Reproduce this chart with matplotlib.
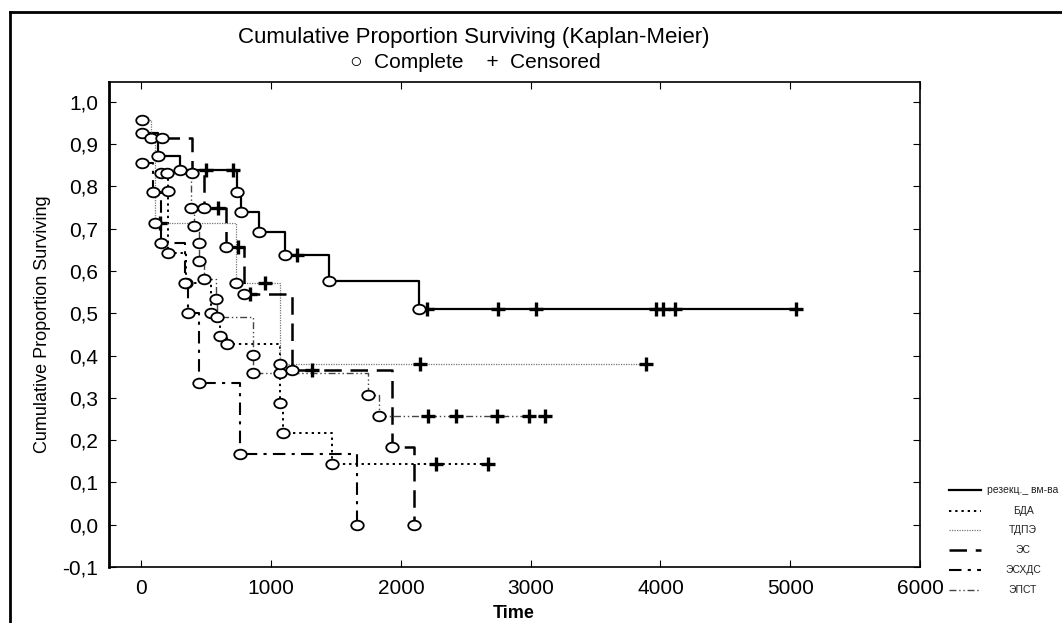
import numpy as np
import matplotlib; matplotlib.use("Agg")
import matplotlib.pyplot as plt
from matplotlib.path import Path
from matplotlib.transforms import Affine2D
from matplotlib.lines import Line2D
from matplotlib.ticker import FuncFormatter, MultipleLocator

# groups: event times, survival after each time, censored flag (1 = censored)
rez_t = [8, 131, 300, 500, 708, 738, 769, 908, 1108, 1200, 1446, 2138, 2200, 2746, 3038, 3969, 4023, 4115, 5046]
rez_s = [0.927, 0.873, 0.838, 0.838, 0.838, 0.788, 0.739, 0.692, 0.638, 0.638, 0.576, 0.511, 0.511, 0.511, 0.511, 0.511, 0.511, 0.511, 0.511]
rez_c = [0, 0, 0, 1, 1, 0, 0, 0, 0, 1, 0, 0, 1, 1, 1, 1, 1, 1, 1]

bda_t = [154, 208, 208, 346, 538, 608, 662, 1069, 1069, 1092, 1469, 2269, 2669]
bda_s = [0.831, 0.790, 0.642, 0.572, 0.501, 0.447, 0.428, 0.358, 0.287, 0.216, 0.143, 0.143, 0.143]
bda_c = [0, 0, 0, 0, 0, 0, 0, 0, 0, 0, 0, 1, 1]

tdpe_t = [8, 77, 108, 146, 731, 954, 1069, 2146, 3885]
tdpe_s = [0.958, 0.915, 0.713, 0.713, 0.572, 0.572, 0.381, 0.381, 0.381]
tdpe_c = [0, 0, 0, 1, 0, 1, 0, 1, 1]

es_t = [161, 392, 485, 592, 654, 746, 792, 838, 1162, 1315, 1931, 2100]
es_s = [0.915, 0.831, 0.750, 0.750, 0.656, 0.656, 0.546, 0.546, 0.365, 0.365, 0.184, 0.0]
es_c = [0, 0, 0, 1, 0, 1, 0, 1, 0, 1, 0, 0]

eshds_t = [8, 92, 154, 338, 362, 446, 762, 1662]
eshds_s = [0.856, 0.786, 0.666, 0.572, 0.501, 0.334, 0.167, 0.0]
eshds_c = [0, 0, 0, 0, 0, 0, 0, 0]

epst_t = [200, 385, 408, 446, 446, 485, 577, 585, 862, 862, 1746, 1831, 2208, 2423, 2738, 2985, 3108]
epst_s = [0.831, 0.750, 0.706, 0.666, 0.624, 0.581, 0.534, 0.492, 0.402, 0.358, 0.306, 0.256, 0.256, 0.256, 0.256, 0.256, 0.256]
epst_c = [0, 0, 0, 0, 0, 0, 0, 0, 0, 0, 0, 0, 1, 1, 1, 1, 1]

groups = ["резекц._ вм-ва", "БДА", "ТДПЭ", "ЭС", "ЭСХДС", "ЭПСТ"]
series = [(rez_t, rez_s, rez_c), (bda_t, bda_s, bda_c), (tdpe_t, tdpe_s, tdpe_c),
          (es_t, es_s, es_c), (eshds_t, eshds_s, eshds_c), (epst_t, epst_s, epst_c)]

styles = [
    dict(color="black", lw=1.6, ls="-"),
    dict(color="black", lw=1.4, ls=(0, (1.2, 2.0))),
    dict(color="#777777", lw=0.9, ls=(0, (1, 1))),
    dict(color="black", lw=1.8, ls=(0, (7, 3.5))),
    dict(color="black", lw=1.5, ls=(0, (6, 3, 1.5, 3))),
    dict(color="#444444", lw=1.0, ls=(0, (5, 2, 1, 2, 1, 2))),
]

plt.rcParams["font.family"] = ["Liberation Sans", "DejaVu Sans"]

ellipse = Path.unit_circle().transformed(Affine2D().scale(1.3, 1.0))

fig = plt.figure(figsize=(10.62, 6.23), dpi=100)
ax = fig.add_axes([109 / 1062, 1 - 567 / 623, 811 / 1062, 485 / 623])

for (t, s, c), st in zip(series, styles):
    t = np.array(t); s = np.array(s); c = np.array(c)
    ax.step(t, s, where="post", color=st["color"], lw=st["lw"], ls=st["ls"], zorder=2)
    ax.plot(t[c == 1], s[c == 1], ls="none", marker="+", ms=10, mew=2.4,
            color="black", zorder=4)
    ax.plot(t[c == 0], s[c == 0], ls="none", marker=ellipse, ms=9, mew=1.3,
            mfc="white", mec="black", zorder=5)

ax.set_xlim(-250, 6000)
ax.set_ylim(-0.1, 1.047)
ax.xaxis.set_major_locator(MultipleLocator(1000))
ax.yaxis.set_major_locator(MultipleLocator(0.1))
ax.yaxis.set_major_formatter(FuncFormatter(lambda v, p: f"{v:.1f}".replace(".", ",").replace("-0,0", "0,0")))
ax.tick_params(direction="in", length=5, width=0.8, top=True, right=True, labelsize=15)
ax.tick_params(axis="x", pad=9)
ax.tick_params(axis="y", pad=8)
for sp in ax.spines.values():
    sp.set_linewidth(1.2)
ax.spines["left"].set_linewidth(2)

ax.set_ylabel("Cumulative Proportion Surviving", fontsize=13, labelpad=8)
fig.text(514 / 1062, 1 - 613 / 623, "Time", ha="center", va="center",
         fontsize=13, fontweight="bold")

fig.text(474 / 1062, 1 - 37 / 623, "Cumulative Proportion Surviving (Kaplan-Meier)",
         ha="center", va="center", fontsize=16)
fig.text(475 / 1062, 1 - 62 / 623, "\u25cb  Complete    +  Censored",
         ha="center", va="center", fontsize=15, family=["Liberation Sans", "DejaVu Sans"])

# legend drawn by hand at the right edge
leg_y = [490, 511, 530, 550, 570, 590]
for lab, st, y in zip(groups, styles, leg_y):
    yf = 1 - y / 623
    fig.add_artist(Line2D([949 / 1062, 981 / 1062], [yf, yf], color=st["color"],
                          lw=st["lw"], ls=st["ls"], transform=fig.transFigure))
    fig.text(1023 / 1062, yf, lab, ha="center", va="center", fontsize=7.5, color="#222222")

# outer frame (top and left edge of the original exported picture)
fig.add_artist(Line2D([10 / 1062, 10 / 1062], [0, 1 - 12 / 623], color="black", lw=2,
                      transform=fig.transFigure))
fig.add_artist(Line2D([10 / 1062, 1], [1 - 12 / 623, 1 - 12 / 623], color="black", lw=2,
                      transform=fig.transFigure))

fig.savefig("out.png", dpi=100, facecolor="white")
